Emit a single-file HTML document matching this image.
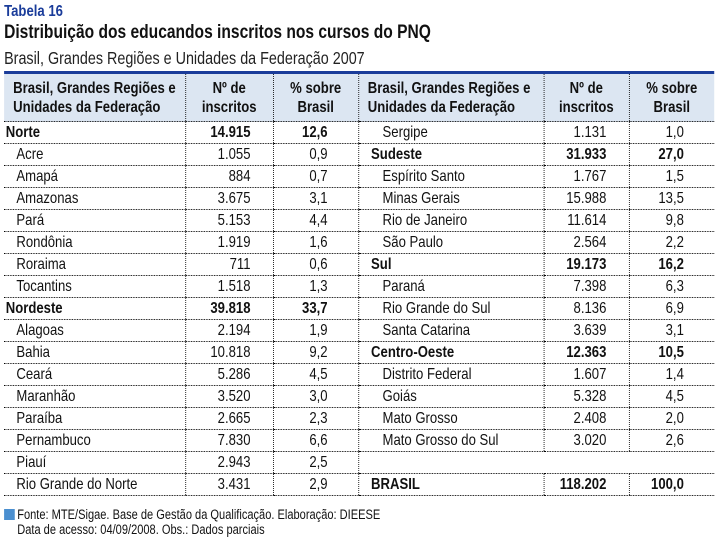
<!DOCTYPE html>
<html><head><meta charset="utf-8"><style>
body{margin:0;width:717px;height:549px;background:#fff;overflow:hidden}
#w{position:absolute;left:0;top:0;width:875px;height:549px;transform:scaleX(0.82);transform-origin:0 0;font-family:"Liberation Sans",sans-serif;color:#111}
.t1{position:absolute;left:5px;top:3px;font-weight:bold;font-size:16px;color:#1a3c9a}
.t2{position:absolute;left:5px;top:22px;font-weight:bold;font-size:19px}
.t3{position:absolute;left:5px;top:48px;font-size:17.5px;color:#222}
table{position:absolute;left:5px;top:71px;border-collapse:collapse;border-top:3px solid #1a3c9a;table-layout:fixed}
td{height:21px;padding:0;font-size:16px;border-bottom:1px dotted #000;white-space:nowrap;line-height:21px;overflow:hidden}
th{height:47px;padding:0;background:#dce6f2;font-size:16px;line-height:19px;border-bottom:1px dotted #000;white-space:nowrap}
td.n,td.p{text-align:right}
.c1{padding-left:11px;text-align:left}
.c2{border-left:1px dotted #000}
td.n{padding-right:27px}
td.p{padding-right:37px}
.b{font-weight:bold}
td.i{padding-left:15px}
td.r{padding-left:2px}
.s{padding-left:29px}
.h{padding-left:15px}
.f{position:absolute;left:5px;top:507px;font-size:13.5px;line-height:15px}
.sq{display:inline-block;width:13px;height:11px;background:#4a8fd0;margin-right:3px;vertical-align:-1px}
</style></head><body><div id="w">
<div class="t1">Tabela 16</div>
<div class="t2">Distribuição dos educandos inscritos nos cursos do PNQ</div>
<div class="t3">Brasil, Grandes Regiões e Unidades da Federação 2007</div>
<table>
<colgroup><col style="width:221px"><col style="width:107px"><col style="width:104px"><col style="width:226px"><col style="width:104px"><col style="width:104px"></colgroup>
<tr><th class="c1">Brasil, Grandes Regiões e<br>Unidades da Federação</th><th class="c2">Nº de<br>inscritos</th><th class="c2">% sobre<br>Brasil</th><th class="c2 c1">Brasil, Grandes Regiões e<br>Unidades da Federação</th><th class="c2">Nº de<br>inscritos</th><th class="c2">% sobre<br>Brasil</th></tr>
<tr><td class="r b">Norte</td><td class="n b c2">14.915</td><td class="p b c2">12,6</td><td class="c2 s">Sergipe</td><td class="n c2">1.131</td><td class="p c2">1,0</td></tr>
<tr><td class="i">Acre</td><td class="n c2">1.055</td><td class="p c2">0,9</td><td class="c2 b h">Sudeste</td><td class="n b c2">31.933</td><td class="p b c2">27,0</td></tr>
<tr><td class="i">Amapá</td><td class="n c2">884</td><td class="p c2">0,7</td><td class="c2 s">Espírito Santo</td><td class="n c2">1.767</td><td class="p c2">1,5</td></tr>
<tr><td class="i">Amazonas</td><td class="n c2">3.675</td><td class="p c2">3,1</td><td class="c2 s">Minas Gerais</td><td class="n c2">15.988</td><td class="p c2">13,5</td></tr>
<tr><td class="i">Pará</td><td class="n c2">5.153</td><td class="p c2">4,4</td><td class="c2 s">Rio de Janeiro</td><td class="n c2">11.614</td><td class="p c2">9,8</td></tr>
<tr><td class="i">Rondônia</td><td class="n c2">1.919</td><td class="p c2">1,6</td><td class="c2 s">São Paulo</td><td class="n c2">2.564</td><td class="p c2">2,2</td></tr>
<tr><td class="i">Roraima</td><td class="n c2">711</td><td class="p c2">0,6</td><td class="c2 b h">Sul</td><td class="n b c2">19.173</td><td class="p b c2">16,2</td></tr>
<tr><td class="i">Tocantins</td><td class="n c2">1.518</td><td class="p c2">1,3</td><td class="c2 s">Paraná</td><td class="n c2">7.398</td><td class="p c2">6,3</td></tr>
<tr><td class="r b">Nordeste</td><td class="n b c2">39.818</td><td class="p b c2">33,7</td><td class="c2 s">Rio Grande do Sul</td><td class="n c2">8.136</td><td class="p c2">6,9</td></tr>
<tr><td class="i">Alagoas</td><td class="n c2">2.194</td><td class="p c2">1,9</td><td class="c2 s">Santa Catarina</td><td class="n c2">3.639</td><td class="p c2">3,1</td></tr>
<tr><td class="i">Bahia</td><td class="n c2">10.818</td><td class="p c2">9,2</td><td class="c2 b h">Centro-Oeste</td><td class="n b c2">12.363</td><td class="p b c2">10,5</td></tr>
<tr><td class="i">Ceará</td><td class="n c2">5.286</td><td class="p c2">4,5</td><td class="c2 s">Distrito Federal</td><td class="n c2">1.607</td><td class="p c2">1,4</td></tr>
<tr><td class="i">Maranhão</td><td class="n c2">3.520</td><td class="p c2">3,0</td><td class="c2 s">Goiás</td><td class="n c2">5.328</td><td class="p c2">4,5</td></tr>
<tr><td class="i">Paraíba</td><td class="n c2">2.665</td><td class="p c2">2,3</td><td class="c2 s">Mato Grosso</td><td class="n c2">2.408</td><td class="p c2">2,0</td></tr>
<tr><td class="i">Pernambuco</td><td class="n c2">7.830</td><td class="p c2">6,6</td><td class="c2 s">Mato Grosso do Sul</td><td class="n c2">3.020</td><td class="p c2">2,6</td></tr>
<tr><td class="i">Piauí</td><td class="n c2">2.943</td><td class="p c2">2,5</td><td class="c2"></td><td></td><td></td></tr>
<tr><td class="i">Rio Grande do Norte</td><td class="n c2">3.431</td><td class="p c2">2,9</td><td class="c2 b h">BRASIL</td><td class="n b c2">118.202</td><td class="p b c2">100,0</td></tr>
</table>
<div class="f"><span class="sq"></span>Fonte: MTE/Sigae. Base de Gestão da Qualificação. Elaboração: DIEESE<br><span style="padding-left:16px">Data de acesso: 04/09/2008. Obs.: Dados parciais</span></div>
</div></body></html>
